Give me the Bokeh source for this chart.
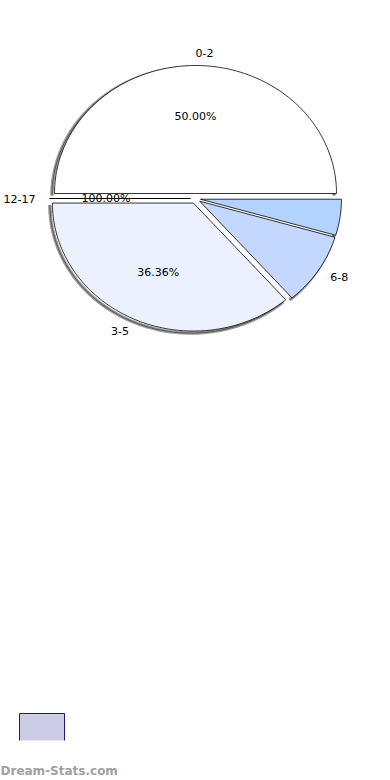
import numpy as np
from bokeh.plotting import figure
from bokeh.models import ColumnDataSource, Range1d
from bokeh.core.properties import value
from bokeh.embed import file_html
from bokeh.resources import INLINE

# ---- data ----
categories = ["0-2", "12-17", "3-5", "6-8", "9-11"]
counts = [11, 0, 8, 2, 1]
name_labels = ["0-2", "12-17", "3-5", "6-8", ""]
pct_labels = ["50.00%", "100.00%", "36.36%", "", ""]
colors = ["#FFFFFF", "#FFFFFF", "#EBF1FF", "#C3D7FF", "#B2D3FF"]
legend_label = "Dream-Stats.com"

# ---- geometry (page pixel coordinates) ----
W, H = 390, 780
cx, cy = 195.0, 198.0
rx, ry = 141.0, 128.0
explode = 5.0

p = figure(width=W, height=H, output_backend="svg", toolbar_location=None,
           x_range=Range1d(0, W), y_range=Range1d(H, 0),
           min_border=0)
p.axis.visible = False
p.grid.visible = False
p.outline_line_color = None
p.background_fill_color = "white"

total = float(sum(counts))
xs, ys, axs, ays = [], [], [], []
lx, ly, ltxt, lalign = [], [], [], []
px, py, ptxt = [], [], []
start = 0.0
for cat, c, nl, pl in zip(categories, counts, name_labels, pct_labels):
    span = 360.0 * c / total
    end = start + span
    mid = np.radians((start + end) / 2.0)
    ox = cx + explode * np.cos(mid)
    oy = cy - explode * np.sin(mid)
    t = np.radians(np.linspace(start, end, max(int(span) + 2, 2)))
    ax_ = list(ox + rx * np.cos(t))
    ay_ = list(oy - ry * np.sin(t))
    xs.append([ox] + ax_)
    ys.append([oy] + ay_)
    if c > 0:
        axs.append([v - 2.5 for v in ax_])
        ays.append([v + 2.0 for v in ay_])
    if nl:
        lx.append(ox + 1.1 * rx * np.cos(mid))
        ly.append(oy - 1.1 * ry * np.sin(mid))
        ltxt.append(nl)
        lalign.append("left" if np.cos(mid) >= -1e-9 else "right")
    if pl:
        px.append(ox + 0.6 * rx * np.cos(mid))
        py.append(oy - 0.6 * ry * np.sin(mid))
        ptxt.append(pl)
    start = end

# shadow along the outer rims
p.multi_line(xs=axs, ys=ays, line_color="#9A9A9A", line_width=3.5)
p.multi_line(xs=axs, ys=ays, line_color="#555555", line_width=1)
# slices
src = ColumnDataSource(dict(xs=xs, ys=ys, color=colors))
p.patches(xs="xs", ys="ys", fill_color="color", line_color="black",
          line_width=0.8, source=src)

# labels
p.text(x=lx, y=ly, text=ltxt, text_align=lalign, text_baseline="middle",
       text_font=value("DejaVu Sans"), text_font_size="11px", text_color="black")
p.text(x=px, y=py, text=ptxt, text_align="center", text_baseline="middle",
       text_font=value("DejaVu Sans"), text_font_size="11px", text_color="black")

# legend swatch (cut off at bottom as in reference)
p.quad(left=[19], right=[64], top=[713], bottom=[740],
       fill_color="#CCCCE6", line_color=None)
p.multi_line(xs=[[19, 19, 64, 64]], ys=[[740, 713, 713, 740]],
             line_color="#1A1A80", line_width=1)

p.text(x=[0], y=[770], text=[legend_label], text_align="left",
       text_baseline="middle", text_font=value("DejaVu Sans"),
       text_font_size="12px", text_font_style="bold", text_color="#A0A0A0")

open("out.html", "w").write(file_html(p, INLINE))
